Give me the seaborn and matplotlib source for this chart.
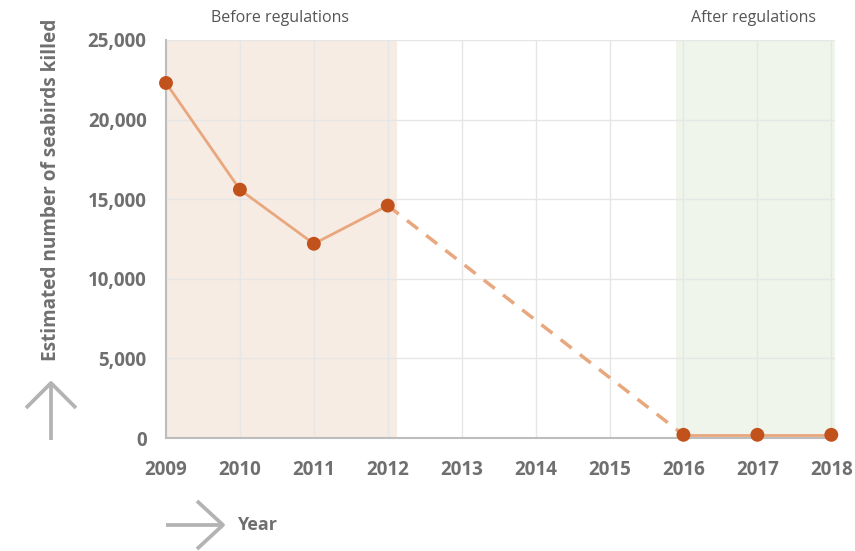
import numpy as np
import pandas as pd
import seaborn as sns
import matplotlib.pyplot as plt
from matplotlib.lines import Line2D

# --- data ---
years = [2009, 2010, 2011, 2012, 2016, 2017, 2018]
killed = [22300, 15600, 12200, 14600, 200, 200, 200]
y_ticks = [0, 5000, 10000, 15000, 20000, 25000]
x_ticks = list(range(2009, 2019))

LINE_COLOR = "#E9A77E"
MARKER_COLOR = "#C2521C"
TEXT_GRAY = "#6f6f6f"
ARROW_GRAY = "#b3b3b3"
W, H = 855, 551

sns.set_theme(style="white")
plt.rcParams["font.family"] = ["Open Sans", "DejaVu Sans"]

df = pd.DataFrame({"year": years, "killed": killed})
before = df[df["year"] <= 2012]
gap = df[df["year"].isin([2012, 2016])]
after = df[df["year"] >= 2016]

fig = plt.figure(figsize=(W / 100, H / 100), dpi=100)
ax = fig.add_axes([166 / W, 1 - 438 / H, (835 - 166) / W, (438 - 40) / H])

# shaded periods
ax.axvspan(2009, 2012.13, color="#F7ECE3", zorder=0, lw=0)
ax.axvspan(2015.9, 2018.05, color="#EFF5EA", zorder=0, lw=0)

sns.lineplot(data=before, x="year", y="killed", ax=ax, color=LINE_COLOR, lw=2, zorder=3)
sns.lineplot(data=gap, x="year", y="killed", ax=ax, color=LINE_COLOR, lw=2.5,
             linestyle=(0, (4, 3)), zorder=3)
sns.lineplot(data=after, x="year", y="killed", ax=ax, color=LINE_COLOR, lw=2, zorder=3)
sns.scatterplot(data=df, x="year", y="killed", ax=ax, color=MARKER_COLOR, s=100,
                edgecolor="none", zorder=4, clip_on=False)

ax.set_xlim(2009, 2018.05)
ax.set_ylim(0, 25000)
ax.set_xticks(x_ticks)
ax.set_yticks(y_ticks)
ax.set_yticklabels([f"{v:,}" for v in y_ticks])
ax.grid(True, color="#e6e6e6", lw=1)
for line in ax.get_xgridlines() + ax.get_ygridlines():
    line.set_zorder(1)

for side in ["top", "right"]:
    ax.spines[side].set_visible(False)
for side in ["left", "bottom"]:
    ax.spines[side].set_color("#bdbdbd")
    ax.spines[side].set_linewidth(1.5)
    ax.spines[side].set_zorder(2)

ax.tick_params(axis="both", length=0, labelsize=13.5, labelcolor=TEXT_GRAY)
ax.tick_params(axis="x", pad=16)
ax.tick_params(axis="y", pad=14)
for lbl in ax.get_xticklabels() + ax.get_yticklabels():
    lbl.set_fontweight("bold")

ax.set_xlabel("")
ax.set_ylabel("")
fig.text(51 / W, 1 - 190 / H, "Estimated number of seabirds killed", rotation=90,
         ha="center", va="center", fontsize=13.7, fontweight="bold", color=TEXT_GRAY)
fig.text(237 / W, 1 - 525 / H, "Year", ha="left", va="center", fontsize=13,
         fontweight="bold", color=TEXT_GRAY)

# period labels
fig.text(280 / W, 1 - 18 / H, "Before regulations", ha="center", va="center",
         fontsize=11.5, color="#555555")
fig.text(753 / W, 1 - 18 / H, "After regulations", ha="center", va="center",
         fontsize=11.5, color="#555555")


# decorative arrows (open chevron heads)
def fig_line(xs, ys):
    fig.add_artist(Line2D([x / W for x in xs], [1 - y / H for y in ys],
                          transform=fig.transFigure, color=ARROW_GRAY, lw=2.7,
                          solid_capstyle="butt"))


fig_line([51, 51], [440, 384])
fig_line([26, 51, 76], [408, 383, 408])
fig_line([166, 222], [525, 525])
fig_line([197, 223, 197], [501, 525, 549])

fig.savefig("out.png", dpi=100)
